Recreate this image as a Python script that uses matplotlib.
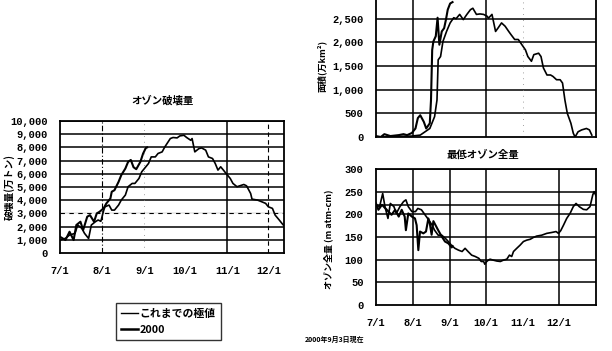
import matplotlib
matplotlib.use('Agg')
from matplotlib import pyplot as plt
from matplotlib.lines import Line2D

plt.rcParams['font.family'] = ['Noto Sans CJK JP', 'DejaVu Sans']
plt.rcParams['font.weight'] = 'bold'

# days counted from 7/1
month_days = [0, 31, 62, 92, 123, 153]
month_labels = ['7/1', '8/1', '9/1', '10/1', '11/1', '12/1']

# オゾン破壊量 (万トン)
destr_hist_day = [0, 4, 7, 11, 13, 16, 18, 21, 23, 26, 28, 30, 32, 33, 36, 38, 40, 43, 45, 48,
                  50, 53, 55, 58, 60, 62, 65, 67, 70, 72, 75, 77, 81, 83, 86, 88, 91, 93, 96, 97,
                  99, 102, 104, 107, 109, 112, 114, 116, 118, 120, 122, 125, 127, 130, 132, 135,
                  137, 140, 141, 145, 147, 151, 153, 156, 158, 161, 163, 164]
destr_hist = [980, 1110, 1360, 1490, 2120, 1870, 1490, 1100, 2120, 2370, 2500, 2400, 3200, 3500,
              3630, 3250, 3250, 3630, 4010, 4390, 5020, 5270, 5270, 5650, 6150, 6400, 6780, 7280,
              7280, 7540, 7660, 8040, 8670, 8750, 8720, 8870, 8920, 8750, 8540, 8670, 7660, 7910,
              7960, 7790, 7280, 7160, 6780, 6280, 6530, 6280, 6020, 5650, 5270, 5020, 5090, 5190,
              5090, 4510, 4080, 4010, 3930, 3760, 3500, 3380, 2870, 2500, 2240, 2120]
destr_2000_day = [0, 4, 7, 10, 12, 15, 17, 20, 22, 25, 27, 29, 32, 34, 37, 38, 40, 43, 45, 48,
                  50, 52, 54, 56, 59, 61, 63, 64]
destr_2000 = [1230, 980, 1610, 980, 2120, 2370, 1740, 2750, 2870, 2370, 3000, 3120, 3380, 3750,
              4130, 4640, 4760, 5390, 5900, 6400, 6900, 7050, 6500, 6350, 6900, 7530, 7950, 8000]

# 面積 (万km2)
area_hist_day = [0, 30, 37, 41, 45, 49, 51, 52, 54, 56, 59, 62, 65, 67, 70, 73, 76, 79, 81, 84,
                 87, 90, 93, 94, 97, 100, 102, 105, 108, 111, 113, 116, 119, 122, 125, 127, 130,
                 132, 136, 138, 140, 143, 146, 148, 151, 154, 156, 158, 160, 163, 165, 166.5,
                 169, 172, 176, 178.5, 180.5]
area_hist = [0, 20, 40, 110, 180, 430, 780, 1630, 1700, 2020, 2230, 2410, 2520, 2500, 2590, 2480,
             2590, 2690, 2720, 2590, 2600, 2590, 2550, 2510, 2590, 2230, 2300, 2410, 2340, 2230,
             2160, 2060, 2060, 1950, 1840, 1700, 1600, 1740, 1770, 1700, 1460, 1310, 1310, 1280,
             1210, 1210, 1140, 780, 500, 290, 80, 0, 110, 150, 180, 150, 40]
area_2000_day = [0, 4, 7, 12, 19, 23, 26, 30, 33, 35, 37, 40, 42, 45, 46, 47, 48, 50, 51.5, 53,
                 55, 57, 58.5, 60, 62, 64]
area_2000 = [20, 0, 60, 20, 40, 60, 40, 85, 180, 400, 460, 320, 180, 290, 780, 1840, 2020, 2130,
             2520, 1950, 2230, 2300, 2480, 2690, 2820, 2850]

# 最低オゾン全量 (m atm-cm)
ozone_hist_day = [0, 3, 5.6, 7.5, 10, 12, 15, 17, 20, 23, 25, 27, 30, 33, 35, 38, 41, 44, 47, 49,
                  52, 55, 58, 60.5, 63, 66, 69, 72, 74.5, 77, 80, 83, 86, 88, 90, 91, 92.6, 94,
                  95.4, 98, 101, 104, 106.6, 109.4, 111.6, 113.5, 115, 117.7, 120.5, 123.3, 126,
                  129, 131.6, 134.4, 138.6, 142.8, 147, 150.6, 152.6, 154.5, 156.8, 159.5, 162.3,
                  165, 167.3, 170, 173.4, 176.2, 179, 181.3, 182.4, 184]
ozone_hist = [221, 217, 246, 217, 191, 224, 217, 202, 217, 228, 232, 217, 206, 206, 213, 210, 199,
              188, 176, 165, 154, 154, 147, 140, 132, 125, 121, 118, 125, 118, 110, 107, 103, 96,
              96, 90, 96, 99, 101, 99, 97, 96, 99, 101, 110, 107, 118, 125, 132, 140, 143, 145,
              149, 152, 154, 158, 160, 162, 158, 164, 176, 191, 202, 217, 224, 217, 211, 210, 217,
              243, 250, 241]
ozone_2000_day = [0, 2, 5, 9, 13, 16, 19, 21.5, 24, 25, 27, 30, 32.6, 34, 35.4, 36.8, 39.6, 41.8,
                  43.8, 45, 46.5, 48, 52, 55, 57.7, 60.5, 63.3, 64]
ozone_2000 = [224, 210, 221, 210, 199, 210, 195, 210, 195, 165, 202, 195, 191, 176, 121, 162, 158,
              162, 191, 180, 155, 185, 165, 151, 140, 136, 127, 130]

W, H = 612, 351
fig = plt.figure(figsize=(6.12, 3.51), dpi=100)

mono = dict(family='Liberation Mono', weight='bold', size=7.5)


def box(x0, x1, ytop, ybot):
    return [x0 / W, 1 - ybot / H, (x1 - x0) / W, (ybot - ytop) / H]


def style(ax, yticks, ymax, xmax, xlabels=True):
    ax.set_xlim(0, xmax)
    ax.set_ylim(0, ymax)
    ax.set_yticks(yticks)
    ax.set_yticklabels(['{:,}'.format(v) for v in yticks], fontdict=mono)
    ax.set_xticks(month_days)
    if xlabels:
        ax.set_xticklabels(month_labels, fontdict=mono)
    else:
        ax.set_xticklabels([])
    ax.tick_params(length=0, pad=9)
    for s in ax.spines.values():
        s.set_linewidth(1.3)
    for y in yticks[1:]:
        ax.axhline(y, color='black', lw=1.1, zorder=1)


# left: オゾン破壊量
ax1 = fig.add_axes(box(60, 284, 121, 253))
style(ax1, list(range(0, 10001, 1000)), 10000, 164.5)
ax1.axhline(3000, color='white', lw=1.3, zorder=1)
ax1.axhline(3000, color='black', lw=0.8, ls=(0, (4, 4)), zorder=1)
ax1.axvline(31, color='black', lw=0.8, ls=(0, (5, 2, 1, 2)))
ax1.axvline(62, color='gray', lw=0.6, ls=(0, (1, 6)))
ax1.axvline(123, color='black', lw=1.1)
ax1.axvline(153, color='black', lw=0.8, ls=(0, (4, 3)))
ax1.plot(destr_hist_day, destr_hist, color='black', lw=1.2, zorder=3)
ax1.plot(destr_2000_day, destr_2000, color='black', lw=1.5, zorder=3)

# top right: 面積 (top of the frame lies above the picture)
ax2 = fig.add_axes(box(376, 596, -5, 137))
style(ax2, list(range(0, 2501, 500)), 3000, 184, xlabels=False)
ax2.axvline(31, color='black', lw=1.1)
ax2.axvline(92, color='black', lw=1.1)
ax2.axvline(123, color='gray', lw=0.6, ls=(0, (1, 6)))
ax2.plot(area_hist_day, area_hist, color='black', lw=1.2, zorder=3)
ax2.plot(area_2000_day, area_2000, color='black', lw=1.5, zorder=3)

# bottom right: 最低オゾン全量
ax3 = fig.add_axes(box(376, 596, 169, 305))
style(ax3, list(range(0, 301, 50)), 300, 184)
ax3.axhline(220, color='black', lw=1.1, zorder=1)
for d in [31, 62, 92, 153]:
    ax3.axvline(d, color='black', lw=1.1)
ax3.plot(ozone_hist_day, ozone_hist, color='black', lw=1.2, zorder=3)
ax3.plot(ozone_2000_day, ozone_2000, color='black', lw=1.5, zorder=3)

# titles and axis labels
fig.text(163 / W, 1 - 100 / H, 'オゾン破壊量', ha='center', va='center', fontsize=7.5)
fig.text(483 / W, 1 - 155 / H, '最低オゾン全量', ha='center', va='center', fontsize=7.5)
fig.text(9 / W, 1 - 187 / H, '破壊量(万トン)', rotation=90, ha='center', va='center', fontsize=7)
fig.text(322 / W, 1 - 66 / H, '面積(万km²)', rotation=90, ha='center', va='center', fontsize=6.5)
fig.text(328 / W, 1 - 239 / H, 'オゾン全量 (m atm-cm)', rotation=90, ha='center', va='center',
         fontsize=6.5)
fig.text(305 / W, 1 - 339 / H, '2000年9月3日現在', ha='left', va='center', fontsize=5)

handles = [Line2D([], [], color='black', lw=1.0), Line2D([], [], color='black', lw=1.8)]
leg = fig.legend(handles, ['これまでの極値', '2000'], loc='upper left',
                 bbox_to_anchor=(116 / W, 1 - 303 / H), fontsize=7.8, frameon=True,
                 fancybox=False, edgecolor='black', handlelength=1.5, handletextpad=0.2,
                 labelspacing=0.6, borderpad=0.5, borderaxespad=0)
leg.get_frame().set_linewidth(1.0)

plt.savefig('out.png', dpi=100)
